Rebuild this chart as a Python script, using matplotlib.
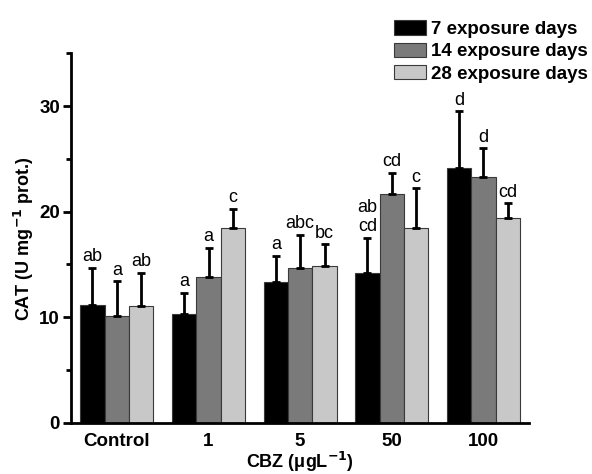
import matplotlib
matplotlib.use("Agg")
import matplotlib.pyplot as plt
import numpy as np

plt.rcParams['font.family'] = ['Liberation Sans', 'DejaVu Sans']

categories = ["Control", "1", "5", "50", "100"]
series_names = ["7 exposure days", "14 exposure days", "28 exposure days"]
means_7 = [11.2, 10.3, 13.3, 14.2, 24.1]
means_14 = [10.1, 13.8, 14.7, 21.7, 23.3]
means_28 = [11.1, 18.5, 14.9, 18.5, 19.4]
err_7 = [3.5, 2.0, 2.5, 3.3, 5.4]
err_14 = [3.3, 2.8, 3.1, 2.0, 2.7]
err_28 = [3.1, 1.8, 2.0, 3.7, 1.4]
letters_7 = ["ab", "a", "a", "ab\ncd", "d"]
letters_14 = ["a", "a", "abc", "cd", "d"]
letters_28 = ["ab", "c", "bc", "c", "cd"]

means = [means_7, means_14, means_28]
errs = [err_7, err_14, err_28]
letters = [letters_7, letters_14, letters_28]
colors = ["#000000", "#7a7a7a", "#c8c8c8"]

fig = plt.figure(figsize=(5.92, 4.74), dpi=100)
ax = fig.add_axes([0.12, 0.108, 0.774, 0.7795])

x = np.arange(len(categories))
w = 0.266
for i in range(3):
    pos = x + (i - 1) * w
    ax.bar(pos, means[i], width=w, color=colors[i], edgecolor="#3a3a3a",
           linewidth=0.8, label=series_names[i], zorder=2)
    ax.errorbar(pos, means[i], yerr=[np.zeros(len(x)), errs[i]], fmt="none",
                ecolor="black", elinewidth=2, capsize=3, capthick=2, zorder=3)
    for j in range(len(x)):
        ax.text(pos[j], means[i][j] + errs[i][j] + 0.25, letters[i][j],
                ha="center", va="bottom", fontsize=13)

ax.set_xlim(-0.5, 4.5)
ax.set_ylim(0, 35)
ax.set_xticks(x)
ax.set_xticklabels(categories, fontweight="bold", fontsize=13.5)
ax.set_yticks([0, 10, 20, 30])
ax.set_yticks([5, 15, 25, 35], minor=True)
ax.set_yticklabels(["0", "10", "20", "30"], fontweight="bold", fontsize=13.5)
ax.tick_params(axis="x", length=0, pad=7)
ax.tick_params(axis="y", which="major", length=6, width=2, direction="out", pad=2)
ax.tick_params(axis="y", which="minor", length=3.5, width=2, direction="out")
for s in ["top", "right"]:
    ax.spines[s].set_visible(False)
for s in ["left", "bottom"]:
    ax.spines[s].set_linewidth(2)

ax.set_ylabel("CAT (U mg$^{\\mathbf{-1}}$ prot.)", fontweight="bold", fontsize=13, labelpad=2)
ax.set_xlabel("CBZ (\u03bcgL$^{\\mathbf{-1}}$)", fontweight="bold", fontsize=13, labelpad=0)

leg = fig.legend(loc="upper left", bbox_to_anchor=(0.665, 0.957), frameon=False,
                 prop={"weight": "bold", "size": 13.5}, handlelength=1.7, handleheight=0.8,
                 handletextpad=0.3, labelspacing=0.25, borderaxespad=0, borderpad=0)

fig.savefig("out.png", dpi=100)
